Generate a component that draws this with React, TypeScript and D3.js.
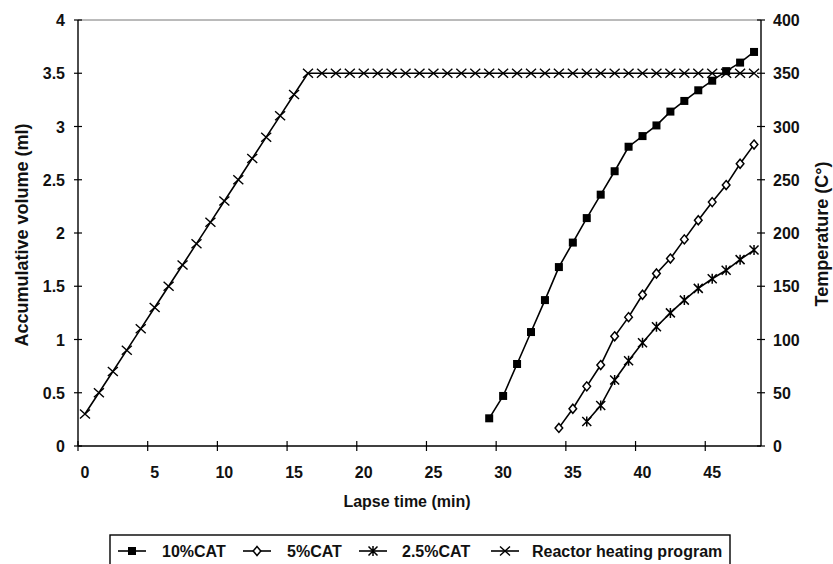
import React from "react";
import * as d3 from "d3";

// ---------- data ----------
const heatTime = [0.5, 1.5, 2.5, 3.5, 4.5, 5.5, 6.5, 7.5, 8.5, 9.5, 10.5, 11.5, 12.5, 13.5, 14.5, 15.5, 16.5, 17.5, 18.5, 19.5, 20.5, 21.5, 22.5, 23.5, 24.5, 25.5, 26.5, 27.5, 28.5, 29.5, 30.5, 31.5, 32.5, 33.5, 34.5, 35.5, 36.5, 37.5, 38.5, 39.5, 40.5, 41.5, 42.5, 43.5, 44.5, 45.5, 46.5, 47.5, 48.5];
const heatTemp = [30, 50, 70, 90, 110, 130, 150, 170, 190, 210, 230, 250, 270, 290, 310, 330, 350, 350, 350, 350, 350, 350, 350, 350, 350, 350, 350, 350, 350, 350, 350, 350, 350, 350, 350, 350, 350, 350, 350, 350, 350, 350, 350, 350, 350, 350, 350, 350, 350];

const cat10Time = [29.5, 30.5, 31.5, 32.5, 33.5, 34.5, 35.5, 36.5, 37.5, 38.5, 39.5, 40.5, 41.5, 42.5, 43.5, 44.5, 45.5, 46.5, 47.5, 48.5];
const cat10Vol = [0.26, 0.47, 0.77, 1.07, 1.37, 1.68, 1.91, 2.14, 2.36, 2.58, 2.81, 2.91, 3.01, 3.14, 3.24, 3.34, 3.43, 3.52, 3.6, 3.7];

const cat5Time = [34.5, 35.5, 36.5, 37.5, 38.5, 39.5, 40.5, 41.5, 42.5, 43.5, 44.5, 45.5, 46.5, 47.5, 48.5];
const cat5Vol = [0.17, 0.35, 0.56, 0.76, 1.03, 1.21, 1.42, 1.62, 1.76, 1.94, 2.12, 2.29, 2.45, 2.65, 2.83];

const cat25Time = [36.5, 37.5, 38.5, 39.5, 40.5, 41.5, 42.5, 43.5, 44.5, 45.5, 46.5, 47.5, 48.5];
const cat25Vol = [0.23, 0.38, 0.62, 0.8, 0.97, 1.12, 1.25, 1.37, 1.48, 1.57, 1.65, 1.75, 1.84];

const xTicks = [0, 5, 10, 15, 20, 25, 30, 35, 40, 45];
const yLeftTicks = [0, 0.5, 1, 1.5, 2, 2.5, 3, 3.5, 4];
const yRightTicks = [0, 50, 100, 150, 200, 250, 300, 350, 400];
const legendLabels = ["10%CAT", "5%CAT", "2.5%CAT", "Reactor heating program"];

const FONT = "'Liberation Sans', Arial, sans-serif";

type Kind = "square" | "diamond" | "star" | "cross";

function Marker({ kind, cx, cy }: { kind: Kind; cx: number; cy: number }) {
  if (kind === "square")
    return <rect x={cx - 4} y={cy - 4} width={8} height={8} fill="#000" />;
  if (kind === "diamond")
    return (
      <path
        d={`M${cx},${cy - 4.5}L${cx + 3.8},${cy}L${cx},${cy + 4.5}L${cx - 3.8},${cy}Z`}
        fill="#fff"
        stroke="#000"
        strokeWidth={1.5}
      />
    );
  if (kind === "star")
    return (
      <path
        d={`M${cx - 4.5},${cy - 4.5}L${cx + 4.5},${cy + 4.5}M${cx - 4.5},${cy + 4.5}L${cx + 4.5},${cy - 4.5}M${cx},${cy - 5}L${cx},${cy + 5}`}
        stroke="#000"
        strokeWidth={1.5}
      />
    );
  return (
    <path
      d={`M${cx - 5},${cy - 4.5}L${cx + 5},${cy + 4.5}M${cx - 5},${cy + 4.5}L${cx + 5},${cy - 4.5}`}
      stroke="#000"
      strokeWidth={1.4}
    />
  );
}

export default function App() {
  const x = d3.scaleLinear().domain([0, 49]).range([78, 761]);
  const yL = d3.scaleLinear().domain([0, 4]).range([446, 20]);
  const yR = d3.scaleLinear().domain([0, 400]).range([446, 20]);

  const lineGen = d3.line<[number, number]>().x((d) => d[0]).y((d) => d[1]);

  const series: { kind: Kind; pts: [number, number][] }[] = [
    { kind: "cross", pts: heatTime.map((t, i) => [x(t), yR(heatTemp[i])]) },
    { kind: "square", pts: cat10Time.map((t, i) => [x(t), yL(cat10Vol[i])]) },
    { kind: "diamond", pts: cat5Time.map((t, i) => [x(t), yL(cat5Vol[i])]) },
    { kind: "star", pts: cat25Time.map((t, i) => [x(t), yL(cat25Vol[i])]) },
  ];

  const legendKinds: Kind[] = ["square", "diamond", "star", "cross"];
  const legendMarkerX = [132, 257, 373, 505];
  const legendTextX = [162, 287, 402, 532];

  return (
    <svg
      width={833}
      height={564}
      style={{ position: "absolute", left: 0, top: 0, background: "#fff" }}
      fontFamily={FONT}
      fontWeight="bold"
    >
      <rect x={0} y={0} width={833} height={564} fill="#fff" />
      {/* plot frame */}
      <line x1={78} x2={761} y1={20} y2={20} stroke="#777" strokeWidth={1} />
      <line x1={78} x2={78} y1={20} y2={446} stroke="#000" strokeWidth={1.4} />
      <line x1={761} x2={761} y1={20} y2={446} stroke="#000" strokeWidth={1.4} />
      <line x1={78} x2={761} y1={446} y2={446} stroke="#000" strokeWidth={1.4} />

      {/* x ticks */}
      {xTicks.map((t) => (
        <g key={"xt" + t}>
          <line x1={x(t)} x2={x(t)} y1={441} y2={451} stroke="#000" strokeWidth={1.2} />
          <text x={x(t + 0.5)} y={478} fontSize={16} textAnchor="middle" fill="#111">
            {t}
          </text>
        </g>
      ))}
      {/* left ticks */}
      {yLeftTicks.map((v) => (
        <g key={"yl" + v}>
          <line x1={74} x2={82} y1={yL(v)} y2={yL(v)} stroke="#000" strokeWidth={1.2} />
          <text x={65} y={yL(v) + 6} fontSize={16} textAnchor="end" fill="#111">
            {v}
          </text>
        </g>
      ))}
      {/* right ticks */}
      {yRightTicks.map((v) => (
        <g key={"yr" + v}>
          <line x1={757} x2={765} y1={yR(v)} y2={yR(v)} stroke="#000" strokeWidth={1.2} />
          <text x={773} y={yR(v) + 6} fontSize={16} textAnchor="start" fill="#111">
            {v}
          </text>
        </g>
      ))}

      {/* series */}
      {series.map((s, si) => (
        <g key={"s" + si}>
          <path d={lineGen(s.pts) || ""} fill="none" stroke="#000" strokeWidth={1.6} />
          {s.pts.map((p, i) => (
            <Marker key={i} kind={s.kind} cx={p[0]} cy={p[1]} />
          ))}
        </g>
      ))}

      {/* axis titles */}
      <text x={407} y={507} fontSize={16} textAnchor="middle" fill="#111">
        Lapse time (min)
      </text>
      <text
        transform="translate(28,235) rotate(-90)"
        fontSize={18}
        textAnchor="middle"
        fill="#111"
      >
        Accumulative volume (ml)
      </text>
      <text
        transform="translate(828,234) rotate(-90)"
        fontSize={18}
        textAnchor="middle"
        fill="#111"
      >
        Temperature (C°)
      </text>

      {/* legend */}
      <rect x={110} y={535} width={620} height={40} fill="#fff" stroke="#000" strokeWidth={1.4} />
      {legendLabels.map((lab, i) => (
        <g key={"lg" + i}>
          <line
            x1={legendMarkerX[i] - 14}
            x2={legendMarkerX[i] + 14}
            y1={551}
            y2={551}
            stroke="#000"
            strokeWidth={1.6}
          />
          <Marker kind={legendKinds[i]} cx={legendMarkerX[i]} cy={551} />
          <text x={legendTextX[i]} y={557} fontSize={16} fill="#111">
            {lab}
          </text>
        </g>
      ))}
    </svg>
  );
}
